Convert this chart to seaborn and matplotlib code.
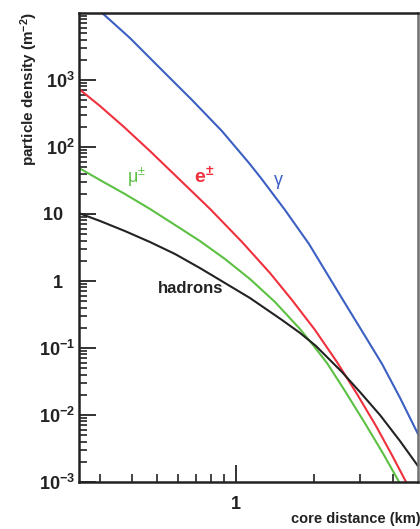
import numpy as np
import pandas as pd
import matplotlib
matplotlib.use("Agg")
import matplotlib.pyplot as plt
from matplotlib.ticker import FixedLocator, NullFormatter
from matplotlib.transforms import ScaledTranslation
import seaborn as sns

# Lateral distribution of secondary particles in an air shower:
# density (m^-2) against core distance (km)
gamma_r   = [0.301, 0.392, 0.520, 0.679, 0.884, 1.123, 1.248, 1.543, 1.909,
             2.218, 2.577, 3.048, 3.64, 4.27, 5.0]
gamma_rho = [1.07e4, 4240, 1410, 502, 173, 57.7, 34.4, 11.5, 3.56,
             1.36, 0.520, 0.179, 0.0577, 0.0179, 0.0052]

e_r   = [0.25, 0.301, 0.372, 0.468, 0.605, 0.796, 1.056, 1.352, 1.642,
         2.012, 2.443, 2.916, 3.45, 3.97, 4.50]
e_rho = [735, 409, 199, 87.1, 33.3, 11.9, 3.82, 1.315, 0.520,
         0.186, 0.0618, 0.0206, 0.00686, 0.00253, 0.001]

mu_r   = [0.25, 0.301, 0.375, 0.468, 0.584, 0.728, 0.908, 1.133, 1.413,
          1.762, 1.977, 2.237, 2.623, 3.158, 3.70, 4.23]
mu_rho = [48.7, 32.1, 19.9, 11.9, 6.86, 3.95, 2.13, 1.07, 0.486,
          0.192, 0.111, 0.0597, 0.0228, 0.0071, 0.00253, 0.001]

had_r   = [0.25, 0.301, 0.375, 0.468, 0.584, 0.728, 0.908, 1.133, 1.503,
           1.762, 2.030, 2.554, 2.995, 3.573, 4.265, 5.0]
had_rho = [10.3, 7.87, 5.57, 3.82, 2.53, 1.56, 0.933, 0.557, 0.262,
           0.168, 0.107, 0.0438, 0.0220, 0.0100, 0.00409, 0.00173]

particles = ["gamma", "e", "mu", "hadrons"]
colors = {"gamma": "#3b5fc2", "e": "#f0303c", "mu": "#5cc043", "hadrons": "#222222"}

y_ticks = [1e-3, 1e-2, 1e-1, 1, 10, 1e2, 1e3]
y_tick_labels = [r"$\mathbf{10^{-3}}$", r"$\mathbf{10^{-2}}$", r"$\mathbf{10^{-1}}$",
                 r"$\mathbf{1}$", r"$\mathbf{10}$",
                 r"$\mathbf{10^{2}}$", r"$\mathbf{10^{3}}$"]
x_ticks = [1]
x_tick_labels = ["1"]

frames = []
for name, r, rho in [("gamma", gamma_r, gamma_rho), ("e", e_r, e_rho),
                     ("mu", mu_r, mu_rho), ("hadrons", had_r, had_rho)]:
    frames.append(pd.DataFrame({"r": r, "rho": rho, "particle": name}))
df = pd.concat(frames, ignore_index=True)

sns.set_theme(style="ticks")
plt.rcParams["font.family"] = ["Liberation Sans", "DejaVu Sans"]
plt.rcParams["mathtext.fontset"] = "custom"
plt.rcParams["mathtext.rm"] = "Liberation Sans"
plt.rcParams["mathtext.bf"] = "Liberation Sans:bold"
plt.rcParams["mathtext.it"] = "Liberation Sans:italic"

fig = plt.figure(figsize=(4.20, 5.29), dpi=100)
ax = fig.add_axes([79 / 420, 1 - 482 / 529, (418 - 79) / 420, (482 - 13) / 529])

sns.lineplot(data=df, x="r", y="rho", hue="particle", hue_order=particles,
             palette=colors, estimator=None, legend=False, linewidth=1.5, ax=ax)

ax.set_xscale("log")
ax.set_yscale("log")
ax.set_xlim(0.25, 5)
ax.set_ylim(1e-3, 1e4)

ax.yaxis.set_major_locator(FixedLocator(y_ticks))
ax.set_yticklabels(y_tick_labels)
ax.yaxis.set_minor_locator(FixedLocator(
    [m * 10.0 ** d for d in range(-3, 4) for m in range(2, 10)]))
ax.yaxis.set_minor_formatter(NullFormatter())

ax.xaxis.set_major_locator(FixedLocator(x_ticks))
ax.set_xticklabels(x_tick_labels, fontweight="bold")
ax.xaxis.set_minor_locator(FixedLocator([0.3, 0.4, 0.5, 0.6, 0.7, 0.8, 0.9, 2, 3, 4]))
ax.xaxis.set_minor_formatter(NullFormatter())

ax.tick_params(which="major", direction="in", length=12, width=1.3,
               color="#222222", labelsize=13, labelcolor="#222222")
ax.tick_params(which="minor", direction="in", length=6, width=1.2, color="#222222")
ax.tick_params(axis="y", which="major", pad=3)
ax.tick_params(axis="x", which="major", pad=10)

# Labels without an exponent line up with the mantissa of the others
shift = ScaledTranslation(-11 / 100, 0, fig.dpi_scale_trans)
for lbl in ax.get_yticklabels():
    if "^" not in lbl.get_text():
        lbl.set_transform(lbl.get_transform() + shift)

for side in ["left", "bottom", "top"]:
    ax.spines[side].set_color("#222222")
    ax.spines[side].set_linewidth(1.8)
ax.spines["right"].set_color("#707070")
ax.spines["right"].set_linewidth(1.8)

ax.set_xlabel("")
ax.set_ylabel("")
fig.text(29 / 420, 1 - 12 / 529, r"particle density (m$^{\mathbf{-2}}$)",
         rotation=90, ha="center", va="top", fontsize=11, fontweight="bold",
         color="#222222")
fig.text(421 / 420, 1 - 519 / 529, "core distance (km)", ha="right", va="center",
         fontsize=10.5, fontweight="bold", color="#222222")

# Curve labels
ax.text(0.417, 35, r"μ$^{\pm}$", color=colors["mu"], fontsize=13,
        ha="center", va="center")
ax.text(0.755, 37, r"$\mathbf{e^{\pm}}$", color=colors["e"], fontsize=14,
        ha="center", va="center")
ax.text(1.46, 32, "γ", color=colors["gamma"], fontsize=13,
        ha="center", va="center")
ax.text(0.673, 0.76, "hadrons", color="#222222", fontsize=12, fontweight="bold",
        ha="center", va="center")

fig.savefig("out.png", dpi=100)
